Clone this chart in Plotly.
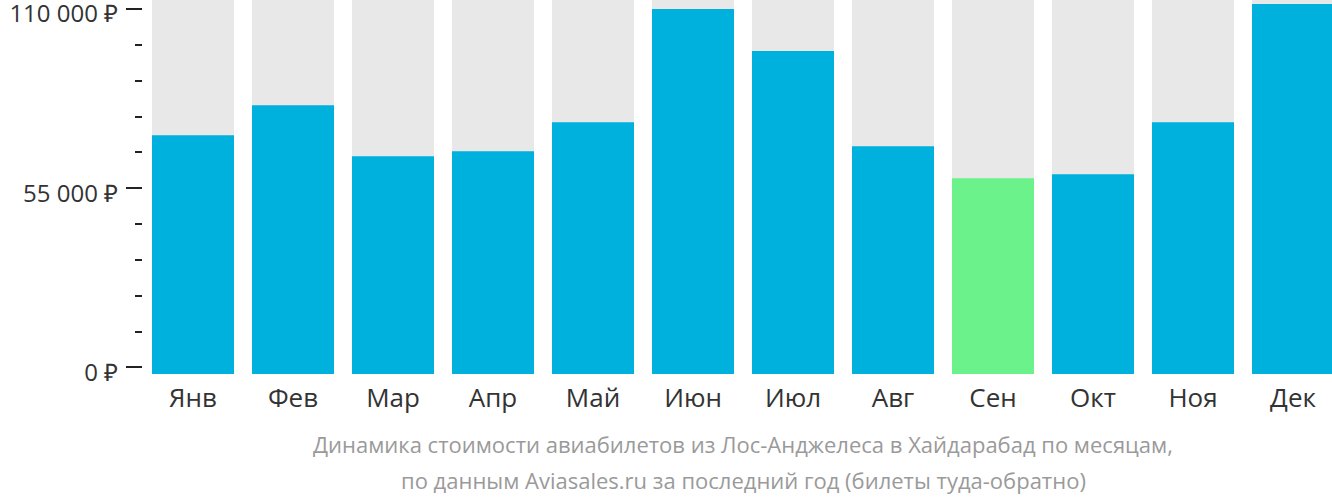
import plotly.graph_objects as go

months = ["Янв", "Фев", "Мар", "Апр", "Май", "Июн", "Июл", "Авг", "Сен", "Окт", "Ноя", "Дек"]
prices = [71290, 80510, 64840, 66380, 75290, 110000, 97110, 67910, 58080, 59310, 75290, 111550]
tick_values = [0, 55000, 110000]
tick_labels = ["0 ₽", "55 000 ₽", "110 000 ₽"]
title_lines = [
    "Динамика стоимости авиабилетов из Лос-Анджелеса в Хайдарабад по месяцам,",
    "по данным Aviasales.ru за последний год (билеты туда-обратно)",
]

Y_MIN = -2000
Y_MAX = 112780
BLUE = "#00b1dd"
GREEN = "#6cf28a"
GRAY = "#e8e8e8"
FONT = "Open Sans"

cheapest = prices.index(min(prices))
colors = [GREEN if i == cheapest else BLUE for i in range(len(prices))]

fig = go.Figure()
fig.add_trace(go.Bar(
    x=months, y=[Y_MAX - Y_MIN] * len(months), base=Y_MIN,
    marker=dict(color=GRAY, line=dict(width=0)), hoverinfo="skip", showlegend=False,
))
fig.add_trace(go.Bar(
    x=months, y=[p - Y_MIN for p in prices], base=Y_MIN,
    marker=dict(color=colors, line=dict(width=0)), hoverinfo="skip", showlegend=False,
))

for i, line in enumerate(title_lines):
    fig.add_annotation(
        text=line, xref="x", yref="paper", x=5.5, y=0, yshift=-70 - 36 * i,
        xanchor="center", yanchor="middle", showarrow=False,
        font=dict(family=FONT, size=22, color="#9a9a9a"),
    )

fig.update_layout(
    width=1332, height=502,
    margin=dict(l=143, r=0, t=0, b=128, autoexpand=False),
    paper_bgcolor="white", plot_bgcolor="white",
    barmode="overlay", bargap=0.18,
    font=dict(family=FONT, color="#333333"),
    xaxis=dict(
        range=[-0.5, 11.39], showgrid=False, zeroline=False, showline=False,
        ticks="", tickfont=dict(size=26, color="#333333"), ticklabelstandoff=6,
        automargin=False, fixedrange=True,
    ),
    yaxis=dict(
        range=[Y_MIN, Y_MAX], showgrid=False, zeroline=False, showline=False,
        tickmode="array", tickvals=tick_values, ticktext=tick_labels,
        ticks="outside", ticklen=16, tickwidth=2, tickcolor="#222222",
        tickfont=dict(size=24, color="#333333"), ticklabeloverflow="allow",
        ticklabelstandoff=3, ticklabelshift=5, automargin=False,
        minor=dict(tick0=0, dtick=11000, ticks="outside", ticklen=7, tickwidth=2, tickcolor="#222222"),
        fixedrange=True,
    ),
)

fig.write_html("out.html", config={"displayModeBar": False})
